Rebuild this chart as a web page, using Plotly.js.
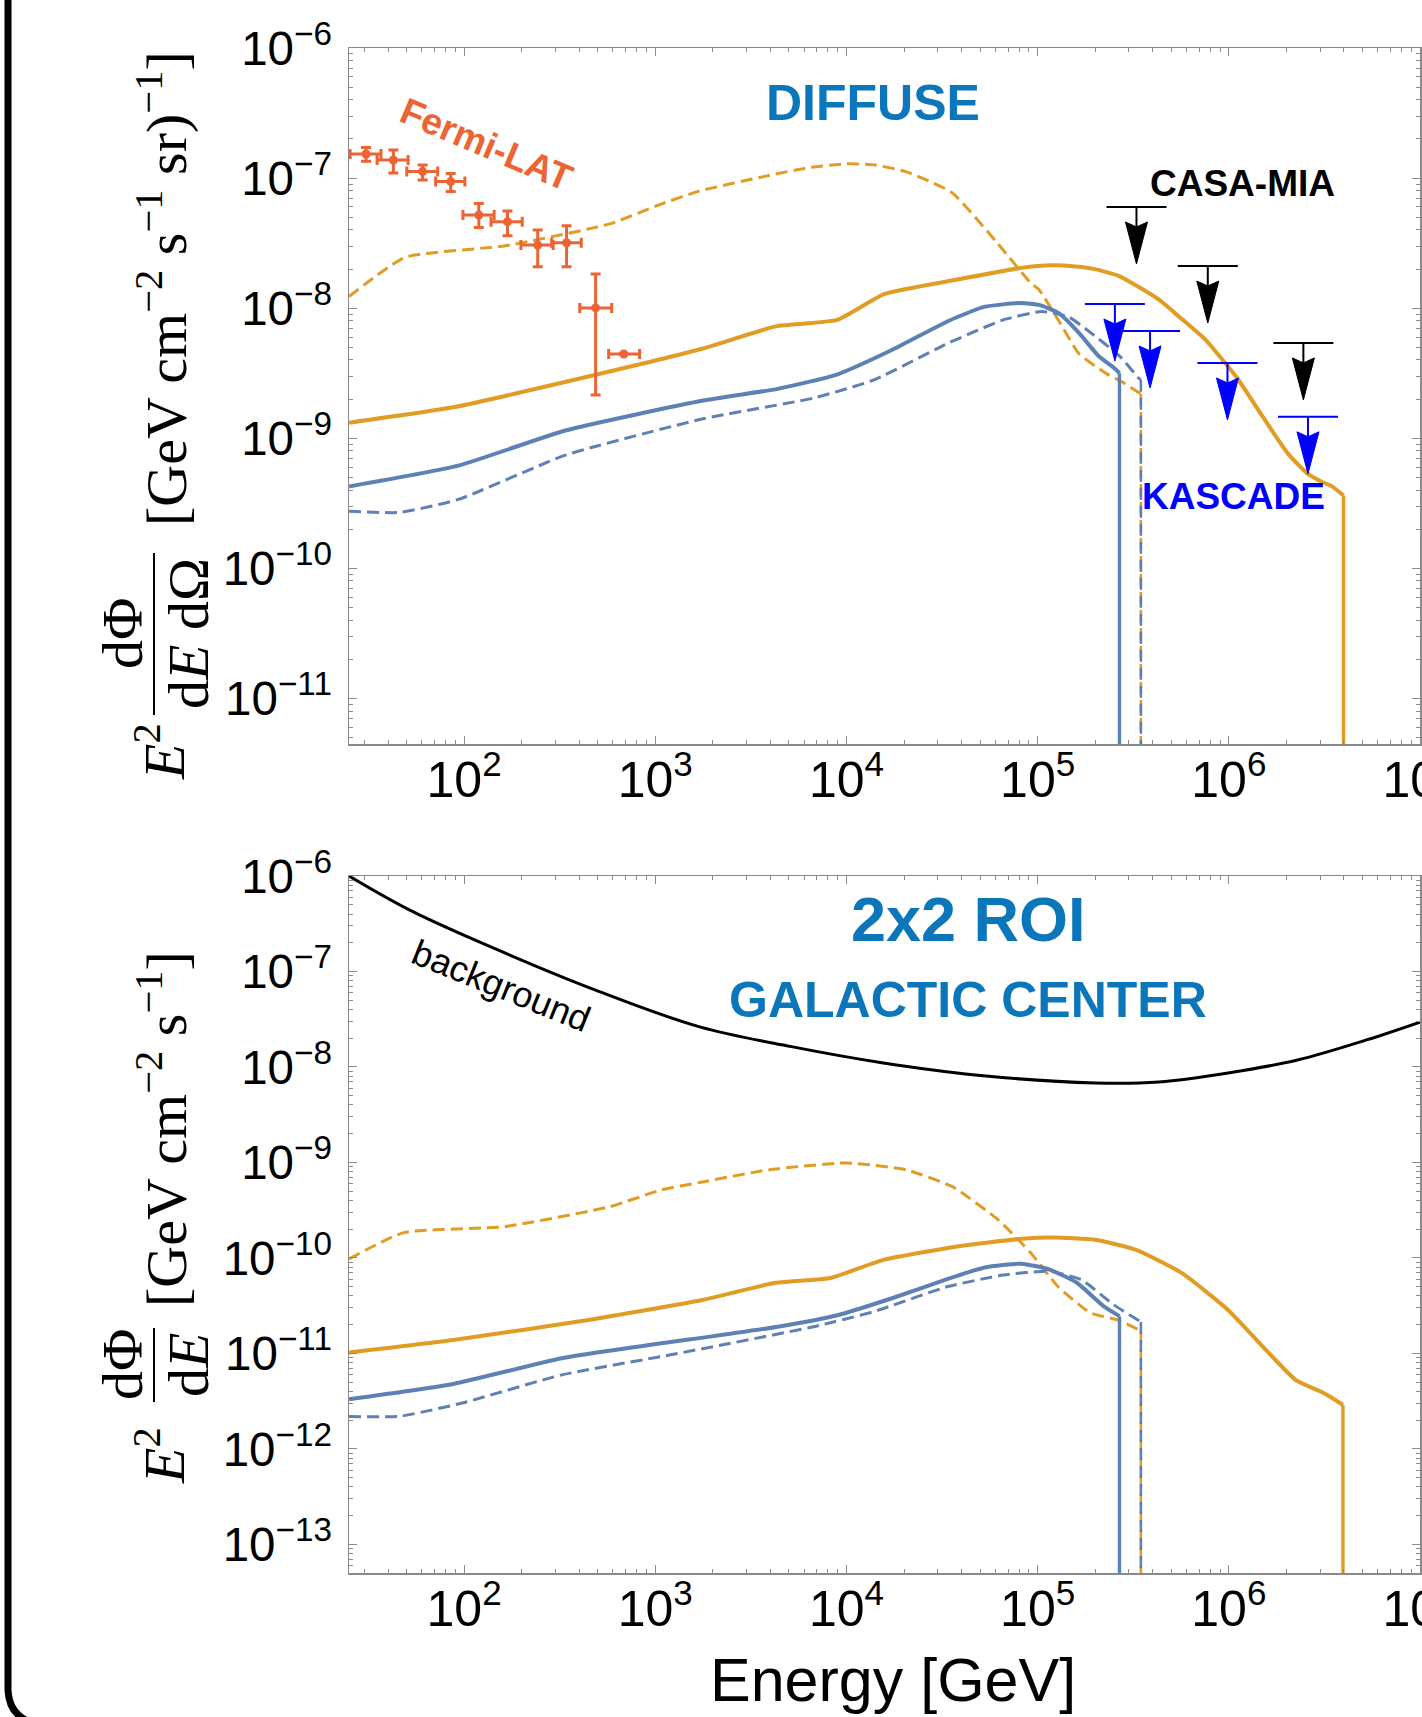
<!DOCTYPE html>
<html>
<head>
<meta charset="utf-8">
<script src="https://cdn.plot.ly/plotly-3.0.1.min.js"></script>
<style>
html,body{margin:0;padding:0;background:#fff;}
#chart{width:1422px;height:1717px;}
</style>
</head>
<body>
<div id="chart"></div>
<script>
// ===== Data (log10 of Energy [GeV] and log10 of flux) =====
// ---- DIFFUSE panel ----
const diffOrangeSolidLogE = [1.398, 1.949, 2.694, 3.25, 3.63, 3.95, 4.2, 4.58, 4.915, 5.0, 5.085, 5.2, 5.30, 5.42, 5.52, 5.64, 5.74, 5.88, 5.98, 6.05, 6.18, 6.31, 6.41, 6.48, 6.54, 6.60, 6.60];
const diffOrangeSolidLogF = [-8.88, -8.76, -8.51, -8.31, -8.14, -8.09, -7.89, -7.78, -7.69, -7.675, -7.67, -7.68, -7.70, -7.75, -7.83, -7.94, -8.065, -8.245, -8.42, -8.55, -8.84, -9.12, -9.27, -9.33, -9.37, -9.44, -16];

const diffOrangeDashLogE = [1.398, 1.69, 2.216, 2.766, 3.03, 3.23, 3.594, 3.8, 4.0, 4.15, 4.31, 4.55, 4.79, 4.96, 5.008, 5.112, 5.216, 5.357, 5.44, 5.53, 5.54, 5.54];
const diffOrangeDashLogF = [-7.91, -7.61, -7.52, -7.35, -7.20, -7.10, -6.98, -6.92, -6.89, -6.90, -6.95, -7.11, -7.50, -7.80, -7.86, -8.10, -8.35, -8.50, -8.565, -8.65, -8.66, -16];

const diffBlueSolidLogE = [1.398, 1.97, 2.53, 3.25, 3.64, 3.95, 4.24, 4.53, 4.72, 4.915, 5.008, 5.112, 5.216, 5.32, 5.40, 5.428, 5.428];
const diffBlueSolidLogF = [-9.37, -9.21, -8.94, -8.71, -8.62, -8.51, -8.32, -8.10, -7.99, -7.96, -7.975, -8.04, -8.19, -8.37, -8.46, -8.50, -16];

const diffBlueDashLogE = [1.398, 1.663, 1.97, 2.53, 3.25, 3.83, 4.146, 4.53, 4.82, 5.008, 5.06, 5.165, 5.27, 5.43, 5.53, 5.54, 5.54];
const diffBlueDashLogF = [-9.56, -9.57, -9.47, -9.13, -8.85, -8.69, -8.55, -8.27, -8.09, -8.027, -8.03, -8.07, -8.18, -8.37, -8.54, -8.55, -16];

// Fermi-LAT data points
const fermiLogE   = [1.487, 1.630, 1.783, 1.930, 2.077, 2.227, 2.385, 2.536, 2.688, 2.835];
const fermiLogELo = [1.404, 1.545, 1.700, 1.851, 1.994, 2.141, 2.297, 2.458, 2.605, 2.756];
const fermiLogEHi = [1.565, 1.707, 1.862, 2.004, 2.157, 2.304, 2.466, 2.613, 2.772, 2.918];
const fermiLogF   = [-6.815, -6.861, -6.950, -7.027, -7.284, -7.335, -7.515, -7.497, -7.998, -8.352];
const fermiLogFLo = [-6.870, -6.960, -7.015, -7.104, -7.379, -7.443, -7.681, -7.681, -8.667, -8.352];
const fermiLogFHi = [-6.765, -6.784, -6.899, -6.964, -7.196, -7.252, -7.399, -7.366, -7.737, -8.352];

// Upper limits
const casaLogE = [5.517, 5.89, 6.39];
const casaLogF = [-7.222, -7.676, -8.267];
const kascadeLogE = [5.404, 5.588, 5.993, 6.414];
const kascadeLogF = [-7.968, -8.175, -8.421, -8.835];

// ---- GALACTIC CENTER panel ----
const gcOrangeSolidLogE = [1.398, 1.943, 2.65, 3.246, 3.629, 3.917, 4.193, 4.58, 4.915, 5.084, 5.30, 5.515, 5.755, 5.996, 6.113, 6.351, 6.492, 6.597, 6.597];
const gcOrangeSolidLogF = [-10.99, -10.86, -10.65, -10.44, -10.26, -10.21, -10.02, -9.88, -9.80, -9.787, -9.81, -9.916, -10.16, -10.545, -10.79, -11.28, -11.41, -11.54, -18];

const gcOrangeDashLogE = [1.398, 1.685, 2.213, 2.765, 3.03, 3.232, 3.592, 4.0, 4.313, 4.554, 4.794, 4.964, 5.107, 5.276, 5.421, 5.53, 5.54, 5.54];
const gcOrangeDashLogF = [-10.01, -9.735, -9.672, -9.462, -9.288, -9.21, -9.078, -9.005, -9.078, -9.254, -9.602, -9.948, -10.30, -10.576, -10.65, -10.754, -10.77, -18];

const gcBlueSolidLogE = [1.398, 1.943, 2.511, 3.08, 3.232, 3.64, 3.953, 4.242, 4.53, 4.723, 4.915, 5.06, 5.205, 5.348, 5.42, 5.428, 5.428];
const gcBlueSolidLogF = [-11.48, -11.32, -11.05, -10.88, -10.84, -10.72, -10.60, -10.42, -10.22, -10.10, -10.06, -10.12, -10.26, -10.51, -10.60, -10.61, -18];

const gcBlueDashLogE = [1.398, 1.659, 1.99, 2.511, 3.08, 3.83, 4.146, 4.53, 4.82, 5.06, 5.23, 5.397, 5.54, 5.54];
const gcBlueDashLogF = [-11.66, -11.66, -11.52, -11.225, -11.015, -10.72, -10.56, -10.30, -10.18, -10.14, -10.23, -10.49, -10.67, -18];

const gcBackgroundLogE = [1.398, 1.732, 2.213, 2.694, 3.232, 3.712, 4.193, 4.674, 5.301, 5.635, 5.996, 6.359, 6.72, 7.0];
const gcBackgroundLogF = [-6.0, -6.374, -6.806, -7.2, -7.58, -7.787, -7.958, -8.084, -8.168, -8.157, -8.063, -7.927, -7.717, -7.53];

// ===== Styling / helpers =====
const W = 1422, H = 1717;
const px = x => x / W;
const py = y => 1 - y / H;
const pow10 = a => a.map(v => Math.pow(10, v));

const ORANGE = '#E19C24';
const BLUE = '#5E81B5';
const FERMI = '#EC6433';
const LABELBLUE = '#0B76BA';
const SANS = 'Liberation Sans, Arial, Helvetica, sans-serif';
const SERIF = 'Liberation Serif, Times New Roman, serif';
const DASH = '12px,6px';

function simpleLine(logE, logF, color, width, dash, xa, ya, shape, smoothing) {
  return {
    x: pow10(logE), y: pow10(logF), xaxis: xa, yaxis: ya,
    type: 'scatter', mode: 'lines', hoverinfo: 'skip',
    line: {color: color, width: width, dash: dash || 'solid', shape: shape || 'linear', smoothing: smoothing || 0}
  };
}
// model curve: smooth body + sharp vertical cut-off (last two points)
function curve(logE, logF, color, width, dash, xa, ya) {
  const n = logE.length;
  return [
    simpleLine(logE.slice(0, n - 1), logF.slice(0, n - 1), color, width, dash, xa, ya, 'spline', 0.5),
    simpleLine(logE.slice(n - 2), logF.slice(n - 2), color, width * 0.85, dash, xa, ya)
  ];
}

const traces = [].concat(
  curve(diffOrangeDashLogE, diffOrangeDashLogF, ORANGE, 3, DASH, 'x', 'y'),
  curve(diffBlueDashLogE, diffBlueDashLogF, BLUE, 3, DASH, 'x', 'y'),
  curve(diffBlueSolidLogE, diffBlueSolidLogF, BLUE, 4, 'solid', 'x', 'y'),
  curve(diffOrangeSolidLogE, diffOrangeSolidLogF, ORANGE, 4, 'solid', 'x', 'y'),
  [{
    x: pow10(fermiLogE), y: pow10(fermiLogF), xaxis: 'x', yaxis: 'y',
    type: 'scatter', mode: 'markers', hoverinfo: 'skip',
    marker: {color: FERMI, size: 9},
    error_x: {type: 'data', symmetric: false,
      array: fermiLogEHi.map((h, i) => Math.pow(10, h) - Math.pow(10, fermiLogE[i])),
      arrayminus: fermiLogELo.map((l, i) => Math.pow(10, fermiLogE[i]) - Math.pow(10, l)),
      color: FERMI, thickness: 3, width: 5},
    error_y: {type: 'data', symmetric: false,
      array: fermiLogFHi.map((h, i) => Math.pow(10, h) - Math.pow(10, fermiLogF[i])),
      arrayminus: fermiLogFLo.map((l, i) => Math.pow(10, fermiLogF[i]) - Math.pow(10, l)),
      color: FERMI, thickness: 3, width: 5}
  }],
  [simpleLine(gcBackgroundLogE, gcBackgroundLogF, '#000', 3, 'solid', 'x2', 'y2', 'spline', 1)],
  curve(gcOrangeDashLogE, gcOrangeDashLogF, ORANGE, 3, DASH, 'x2', 'y2'),
  curve(gcBlueDashLogE, gcBlueDashLogF, BLUE, 3, DASH, 'x2', 'y2'),
  curve(gcBlueSolidLogE, gcBlueSolidLogF, BLUE, 4, 'solid', 'x2', 'y2'),
  curve(gcOrangeSolidLogE, gcOrangeSolidLogF, ORANGE, 4, 'solid', 'x2', 'y2')
);

// Upper-limit glyphs: bar at the limit, stem and arrowhead drawn below in pixels
function upperLimits(logE, logF, color) {
  const out = [];
  logE.forEach((le, i) => {
    const base = {type: 'path', xref: 'x', yref: 'y', xsizemode: 'pixel', ysizemode: 'pixel',
      xanchor: Math.pow(10, le), yanchor: Math.pow(10, logF[i])};
    out.push(Object.assign({}, base, {path: 'M-30,0L30,0M0,0L0,-22', line: {color: color, width: 2}}));
    out.push(Object.assign({}, base, {path: 'M0,-57L-11,-15L0,-20L11,-15Z', fillcolor: color, line: {color: color, width: 1}}));
  });
  return out;
}

const GRAY = '#8a8a8a';
const axisCommon = {
  type: 'log', showgrid: false, zeroline: false,
  showline: true, linecolor: GRAY, linewidth: 1.5, mirror: 'ticks',
  ticks: 'inside', ticklen: 8, tickwidth: 1, tickcolor: GRAY,
  minor: {ticks: 'inside', ticklen: 4, tickwidth: 1, tickcolor: GRAY, showgrid: false},
  dtick: 1, exponentformat: 'power', showexponent: 'all',
  ticklabeloverflow: 'allow'
};
const XTICKFONT = {size: 40, family: SANS, color: '#000'};
const YTICKFONT = {size: 38, family: SANS, color: '#000'};
const XR = [Math.log10(25), 7];

function ann(text, x, y, size, color, opts) {
  return Object.assign({
    text: text, xref: 'paper', yref: 'paper', x: px(x), y: py(y),
    xanchor: 'center', yanchor: 'middle', showarrow: false,
    font: {family: SANS, size: size, color: color}
  }, opts || {});
}
function mathAnn(text, x, y, size) {
  return ann(text, x, y, size, '#000', {textangle: -90, font: {family: SERIF, size: size, color: '#000'}});
}

const annotations = [
  ann('<b>DIFFUSE</b>', 873, 103, 50, LABELBLUE),
  ann('<b>CASA-MIA</b>', 1242, 184, 37, '#000'),
  ann('<b>KASCADE</b>', 1233, 497, 37, '#0000FF'),
  ann('<b>Fermi-LAT</b>', 486, 145, 37, FERMI, {textangle: 23}),
  ann('<b>2x2 ROI</b>', 968, 919, 63, LABELBLUE),
  ann('<b>GALACTIC CENTER</b>', 968, 1000, 50, LABELBLUE),
  ann('background', 501, 986, 36, '#000', {textangle: 22}),
  ann('Energy [GeV]', 893, 1680, 61, '#000'),
  // y titles (top panel)
  mathAnn('[GeV cm<sup>\u22122</sup> s<sup>\u22121</sup> sr)<sup>\u22121</sup>]', 162, 289, 58),
  mathAnn('d\u03A6', 122, 634, 58),
  mathAnn('d<i>E</i> d\u03A9', 188, 634, 58),
  mathAnn('<i>E</i><sup>2</sup>', 160, 752, 58),
  // y titles (bottom panel)
  mathAnn('[GeV cm<sup>\u22122</sup> s<sup>\u22121</sup>]', 162, 1129, 58),
  mathAnn('d\u03A6', 122, 1365, 58),
  mathAnn('d<i>E</i>', 188, 1365, 58),
  mathAnn('<i>E</i><sup>2</sup>', 160, 1456, 58)
];

const shapes = [
  // outer figure frame (left edge with rounded bottom corner)
  {type: 'path', xref: 'paper', yref: 'paper',
   path: `M${px(8)},${py(-10)} L${px(8)},${py(1690)} Q${px(9)},${py(1714)} ${px(30)},${py(1722)}`,
   line: {color: '#000', width: 7}},
  // fraction bars of the y titles
  {type: 'line', xref: 'paper', yref: 'paper', x0: px(154), x1: px(154), y0: py(553), y1: py(715), line: {color: '#000', width: 2}},
  {type: 'line', xref: 'paper', yref: 'paper', x0: px(154), x1: px(154), y0: py(1328), y1: py(1402), line: {color: '#000', width: 2}}
].concat(upperLimits(casaLogE, casaLogF, '#000'), upperLimits(kascadeLogE, kascadeLogF, '#0000FF'));

const layout = {
  width: W, height: H,
  margin: {l: 0, r: 0, t: 0, b: 0},
  paper_bgcolor: '#fff', plot_bgcolor: '#fff',
  showlegend: false,
  font: {family: SANS, color: '#000'},
  xaxis: Object.assign({}, axisCommon, {domain: [px(349), px(1420)], range: XR, anchor: 'y', tickfont: XTICKFONT, ticklabelstandoff: -7}),
  yaxis: Object.assign({}, axisCommon, {domain: [py(744), py(48)], range: [-11.35, -6], anchor: 'x', tickfont: YTICKFONT, ticklabelstandoff: 8}),
  xaxis2: Object.assign({}, axisCommon, {domain: [px(349), px(1420)], range: XR, anchor: 'y2', tickfont: XTICKFONT, ticklabelstandoff: -7}),
  yaxis2: Object.assign({}, axisCommon, {domain: [py(1573), py(876)], range: [-13.3, -6], anchor: 'x2', tickfont: YTICKFONT, ticklabelstandoff: 8}),
  annotations: annotations,
  shapes: shapes
};

Plotly.newPlot('chart', traces, layout, {staticPlot: true, displayModeBar: false});
</script>
</body>
</html>
